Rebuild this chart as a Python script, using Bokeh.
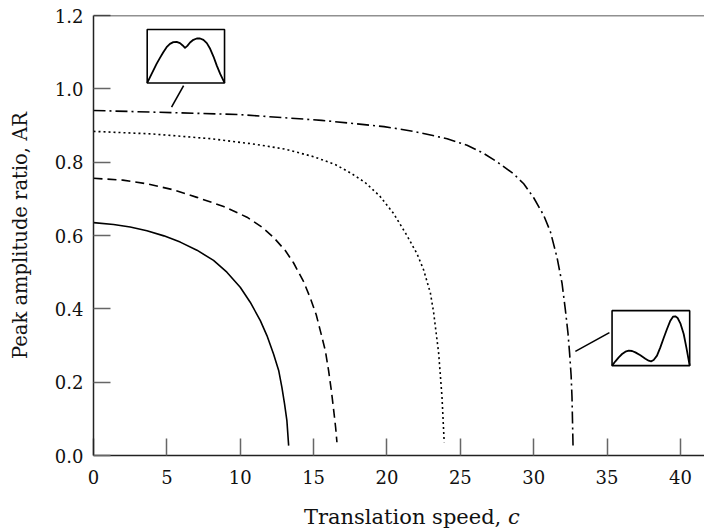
from bokeh.plotting import figure
from bokeh.layouts import column
from bokeh.models import Range1d, FixedTicker, PrintfTickFormatter, Span, Div
from bokeh.embed import file_html
from bokeh.resources import INLINE

# Peak amplitude ratio AR against translation speed c, four cases
speed_solid = [0, 1.37, 2.5, 3.64, 4.8, 5.91, 7.05, 8.18, 9.09, 10.0, 10.68, 11.37, 11.82,
               12.27, 12.62, 12.84, 13.02, 13.18, 13.30]
ar_solid = [0.635, 0.630, 0.623, 0.613, 0.599, 0.582, 0.560, 0.532, 0.500, 0.459, 0.418,
            0.368, 0.327, 0.277, 0.232, 0.186, 0.141, 0.095, 0.027]

speed_dashed = [0, 2.0, 3.64, 5.4, 7.05, 8.87, 10.46, 11.48, 12.27, 13.07, 13.64, 14.32,
                14.77, 15.18, 15.46, 15.80, 16.02, 16.21, 16.37, 16.50, 16.59]
ar_dashed = [0.756, 0.751, 0.741, 0.725, 0.704, 0.679, 0.650, 0.623, 0.595, 0.559, 0.525,
             0.474, 0.430, 0.384, 0.340, 0.286, 0.232, 0.177, 0.123, 0.077, 0.036]

speed_dotted = [0, 4.0, 8.0, 11.0, 13.0, 15.0, 16.5, 17.5, 18.5, 19.5, 20.45, 21.36,
                22.05, 22.5, 22.96, 23.18, 23.52, 23.75, 23.9]
ar_dotted = [0.884, 0.877, 0.864, 0.849, 0.836, 0.815, 0.793, 0.771, 0.745, 0.708, 0.660,
             0.600, 0.550, 0.506, 0.443, 0.390, 0.280, 0.160, 0.036]

speed_dashdot = [0, 9.87, 15.55, 19.8, 21.82, 24.1, 25.46, 26.5, 27.5, 28.63, 29.32, 30.0,
                 30.68, 31.14, 31.59, 31.93, 32.15, 32.34, 32.45, 32.55, 32.61, 32.68]
ar_dashdot = [0.941, 0.930, 0.914, 0.897, 0.884, 0.864, 0.846, 0.826, 0.801, 0.768, 0.741,
              0.703, 0.655, 0.610, 0.540, 0.470, 0.400, 0.332, 0.277, 0.218, 0.159, 0.027]

x_ticks = [0, 5, 10, 15, 20, 25, 30, 35, 40]
y_ticks = [0.0, 0.2, 0.4, 0.6, 0.8, 1.0, 1.2]

# Normalised wave profiles shown in the two small insets (0..1 in both directions)
profile_a_x = [0, 0.035, 0.078, 0.121, 0.165, 0.208, 0.251, 0.294, 0.338, 0.381, 0.424,
               0.459, 0.489, 0.519, 0.554, 0.597, 0.641, 0.684, 0.727, 0.771, 0.814,
               0.857, 0.900, 0.944, 1.0]
profile_a_y = [0, 0.106, 0.231, 0.356, 0.469, 0.575, 0.669, 0.731, 0.763, 0.769, 0.744,
               0.700, 0.656, 0.694, 0.756, 0.806, 0.831, 0.831, 0.806, 0.744, 0.638,
               0.494, 0.325, 0.169, 0.0]

profile_b_x = [0, 0.043, 0.086, 0.129, 0.172, 0.215, 0.258, 0.300, 0.365, 0.429, 0.472,
               0.502, 0.536, 0.579, 0.622, 0.665, 0.708, 0.751, 0.785, 0.815, 0.845,
               0.880, 0.923, 0.957, 1.0]
profile_b_y = [0, 0.079, 0.152, 0.212, 0.255, 0.273, 0.267, 0.242, 0.188, 0.127, 0.091,
               0.079, 0.103, 0.182, 0.333, 0.503, 0.667, 0.818, 0.891, 0.897, 0.867,
               0.770, 0.576, 0.333, 0.0]

SERIF = "DejaVu Serif"
INK = "#111111"

p = figure(width=704, height=497, output_backend="svg", toolbar_location=None,
           x_range=Range1d(0, 41.64), y_range=Range1d(0, 1.2),
           min_border_left=93, min_border_right=0, min_border_top=15,
           min_border_bottom=42)
p.grid.visible = False
p.outline_line_color = None
p.background_fill_color = "white"
p.border_fill_color = "white"

for ax in (p.xaxis[0], p.yaxis[0]):
    ax.major_tick_in = 17
    ax.major_tick_out = 0
    ax.minor_tick_line_color = None
    ax.major_tick_line_color = "#666666"
    ax.major_tick_line_width = 1.5
    ax.axis_line_color = "#222222"
    ax.axis_line_width = 1.5
    ax.major_label_text_font = SERIF
    ax.major_label_text_font_size = "18px"
    ax.major_label_text_color = INK

p.xaxis.ticker = FixedTicker(ticks=x_ticks)
p.yaxis.ticker = FixedTicker(ticks=y_ticks)
p.yaxis.formatter = PrintfTickFormatter(format="%.1f")
p.xaxis.major_label_standoff = 14
p.yaxis.major_label_standoff = 10

p.yaxis.axis_label = "Peak amplitude ratio, AR"
p.yaxis.axis_label_text_font = SERIF
p.yaxis.axis_label_text_font_style = "normal"
p.yaxis.axis_label_text_font_size = "19.5px"
p.yaxis.axis_label_text_color = INK
p.yaxis.axis_label_standoff = 20

# top border of the frame
p.add_layout(Span(location=1.2, dimension="width", line_color="#222222", line_width=1.5))

lw = 1.6
p.line(speed_solid, ar_solid, line_color="black", line_width=lw)
p.line(speed_dashed, ar_dashed, line_color="black", line_width=lw, line_dash="9 5")
p.line(speed_dotted, ar_dotted, line_color="black", line_width=lw, line_dash="2 3")
p.line(speed_dashdot, ar_dashdot, line_color="black", line_width=lw, line_dash="12 4 2 4")


def inset(px, py, left, right, bottom, top, tail):
    p.quad(left=[left], right=[right], bottom=[bottom], top=[top],
           fill_color="white", line_color="black", line_width=1.6)
    xs = [left + fx * (right - left) for fx in px]
    ys = [bottom + fy * (top - bottom) for fy in py]
    p.line(xs, ys, line_color="black", line_width=1.8, line_join="round")
    p.line(tail[0], tail[1], line_color="black", line_width=1.6)


inset(profile_a_x, profile_a_y, 3.66, 8.93, 1.016, 1.162,
      ([5.32, 6.14], [0.950, 1.009]))
inset(profile_b_x, profile_b_y, 35.34, 40.63, 0.245, 0.395,
      ([32.84, 35.16], [0.284, 0.335]))

# x-axis title, with the speed symbol in italics
xtitle = Div(text='<div style="padding-left:299px; padding-top:1px; line-height:22px; '
                  'white-space:nowrap;">Translation speed, <i>c</i></div>',
             width=704, height=35,
             styles={"font-family": SERIF, "font-size": "21px", "color": INK,
                     "background-color": "white"})

layout = column(p, xtitle, spacing=0)
open("out.html", "w").write(file_html(layout, INLINE))
